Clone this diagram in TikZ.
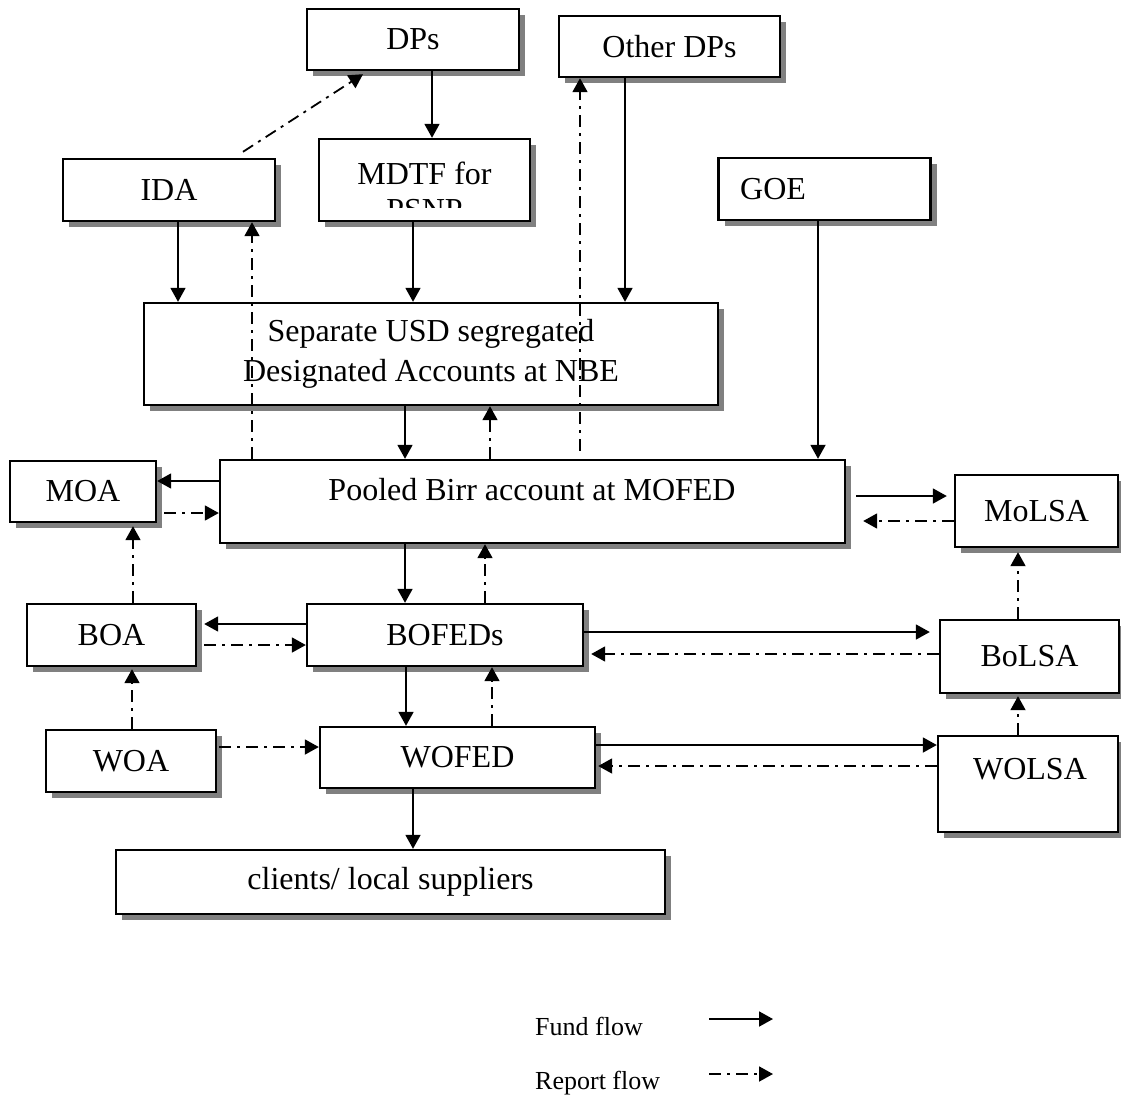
\documentclass[tikz,border=0pt]{standalone}
\usepackage{fontspec}
\setmainfont{Liberation Serif}
\usepackage{tikz}
\usetikzlibrary{arrows.meta,shadows}

\begin{document}
\begin{tikzpicture}[x=1pt,y=-1pt,
  box/.style={draw,line width=2.4pt,fill=white,inner sep=0pt,
    drop shadow={shadow xshift=6pt,shadow yshift=-6pt,fill=gray,opacity=1}},
  lbl/.style={font=\fontsize{32}{40}\selectfont,align=center,inner sep=0pt},
  fund/.style={line width=1.8pt,-{Triangle[length=14pt,width=15pt]}},
  report/.style={fund,dash pattern=on 12pt off 6pt on 3pt off 6pt}]
  \useasboundingbox (0,0) rectangle (1121,1095);
  % donors and accounts
  \node[box,lbl,minimum width=212,minimum height=61] (dps) at (413,39.5) {DPs};
  \node[box,lbl,minimum width=221,minimum height=61] (odps) at (669.5,46.5) {Other DPs};
  \node[box,lbl,minimum width=212,minimum height=62] (ida) at (169,190) {IDA};
  \node[box,minimum width=211,minimum height=82] (mdtf) at (424.5,180) {};
  \begin{scope}
    \clip (mdtf.north west) rectangle (mdtf.east |- 0,207);
    \node[lbl,font=\fontsize{32}{36}\selectfont] (mdtft) at (424.5,191) {MDTF for\\PSNP};
  \end{scope}
  \node[box,minimum width=212,minimum height=62] (goe) at (824.5,189) {};
  \node[lbl,anchor=west] (goet) at (740,189) {GOE};
  \node[box,lbl,minimum width=574,minimum height=102] (nbe) at (431,354)
    {Separate USD segregated\\Designated Accounts at NBE};
  \node[box,minimum width=625,minimum height=83] (pool) at (532.5,501.5) {};
  \node[lbl] (poolt) at (532,490) {Pooled Birr account at MOFED};
  % federal, regional and woreda offices
  \node[box,lbl,minimum width=146,minimum height=61] (moa) at (83,491.5) {MOA};
  \node[box,lbl,minimum width=163,minimum height=72] (molsa) at (1036.5,511) {MoLSA};
  \node[box,lbl,minimum width=169,minimum height=62] (boa) at (111.5,635) {BOA};
  \node[box,lbl,minimum width=276,minimum height=62] (bofed) at (445,635) {BOFEDs};
  \node[box,lbl,minimum width=179,minimum height=73] (bolsa) at (1029.5,656.5) {BoLSA};
  \node[box,lbl,minimum width=170,minimum height=62] (woa) at (131,761) {WOA};
  \node[box,lbl,minimum width=275,minimum height=61] (wofed) at (457.5,757.5) {WOFED};
  \node[box,minimum width=180,minimum height=96] (wolsa) at (1028,784) {};
  \node[lbl] (wolsat) at (1030,769) {WOLSA};
  \node[box,lbl,minimum width=549,minimum height=64] (cli) at (390.5,882) {clients/ local suppliers};
  % flows into the designated accounts
  \draw[report] ([xshift=74pt,yshift=6pt]ida.north) -- ([xshift=-50pt,yshift=-3pt]dps.south);
  \draw[fund] (dps.south -| 432,0) -- (mdtf.north -| 432,0);
  \draw[fund] (odps.south -| 625,0) -- (nbe.north -| 625,0);
  \draw[fund] (ida.south -| 178,0) -- (nbe.north -| 178,0);
  \draw[fund] (mdtf.south -| 413,0) -- (nbe.north -| 413,0);
  \draw[report] (pool.north -| 252,0) -- (ida.south -| 252,0);
  \draw[report,shorten <=8pt] (pool.north -| 580,0) -- (odps.south -| 580,0);
  \draw[fund] (nbe.south -| 405,0) -- (pool.north -| 405,0);
  \draw[report] (pool.north -| 490,0) -- (nbe.south -| 490,0);
  \draw[fund] (goe.south -| 818,0) -- (pool.north -| 818,0);
  % federal level
  \draw[fund] (pool.west |- 0,481) -- (moa.east |- 0,481);
  \draw[report,shorten <=7pt] (moa.east |- 0,513) -- (pool.west |- 0,513);
  \draw[fund,shorten <=10pt,shorten >=7pt] (pool.east |- 0,496) -- (molsa.west |- 0,496);
  \draw[report,shorten >=17pt] (molsa.west |- 0,521) -- (pool.east |- 0,521);
  % regional level
  \draw[report,shorten >=3pt] (boa.north -| 133,0) -- (moa.south -| 133,0);
  \draw[report,shorten >=4pt] (bolsa.north -| 1018,0) -- (molsa.south -| 1018,0);
  \draw[fund] (pool.south -| 405,0) -- (bofed.north -| 405,0);
  \draw[report] (bofed.north -| 485,0) -- (pool.south -| 485,0);
  \draw[fund,shorten >=7pt] (bofed.west |- 0,624) -- (boa.east |- 0,624);
  \draw[report,shorten <=7pt] (boa.east |- 0,645) -- (bofed.west |- 0,645);
  \draw[fund,shorten >=9pt] (bofed.east |- 0,632) -- (bolsa.west |- 0,632);
  \draw[report,shorten >=7pt] (bolsa.west |- 0,654) -- (bofed.east |- 0,654);
  % woreda level
  \draw[report,shorten >=2pt] (woa.north -| 132,0) -- (boa.south -| 132,0);
  \draw[fund] (bofed.south -| 406,0) -- (wofed.north -| 406,0);
  \draw[report] (wofed.north -| 492,0) -- (bofed.south -| 492,0);
  \draw[report,shorten <=2pt] (woa.east |- 0,747) -- (wofed.west |- 0,747);
  \draw[fund] (wofed.east |- 0,745) -- (wolsa.west |- 0,745);
  \draw[report,shorten >=2pt] (wolsa.west |- 0,766) -- (wofed.east |- 0,766);
  \draw[report,shorten >=2pt] (wolsa.north -| 1018,0) -- (bolsa.south -| 1018,0);
  \draw[fund] (wofed.south -| 413,0) -- (cli.north -| 413,0);
  % legend
  \node[anchor=base west,inner sep=0pt,font=\fontsize{26}{30}\selectfont] (fundl) at (535,1035) {Fund flow};
  \node[anchor=base west,inner sep=0pt,font=\fontsize{26}{30}\selectfont] (repl) at (535,1089) {Report flow};
  \coordinate (f1) at (709,1019);
  \coordinate (f2) at (773,1019);
  \coordinate (r1) at (709,1074);
  \coordinate (r2) at (773,1074);
  \draw[fund] (f1) -- (f2);
  \draw[report] (r1) -- (r2);
\end{tikzpicture}
\end{document}
